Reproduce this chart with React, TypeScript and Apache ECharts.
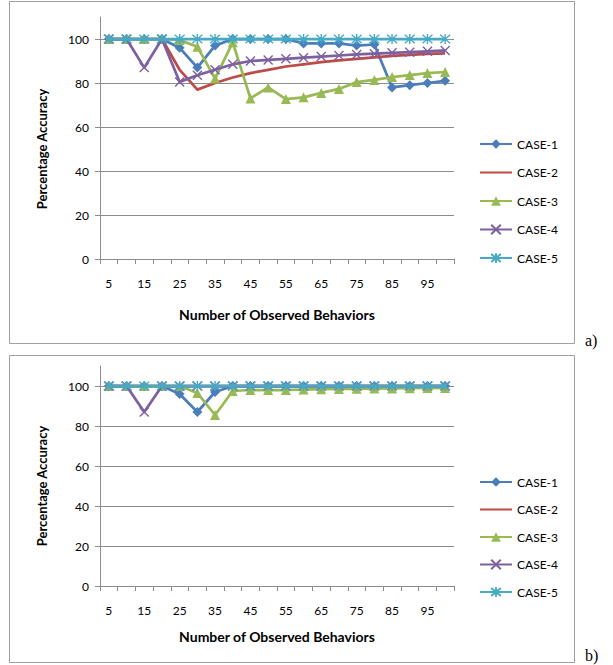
import React, { useEffect, useRef } from "react";
import * as echarts from "echarts";

const categories = ["5","10","15","20","25","30","35","40","45","50","55","60","65","70","75","80","85","90","95","100"];
const yTicks = [0, 20, 40, 60, 80, 100];
const seriesNames = ["CASE-1", "CASE-2", "CASE-3", "CASE-4", "CASE-5"];

// Panel a)
const a1 = [100,100,100,100,96,87,97,100,100,100,100,98,98,98,97,97.5,78,79,80,81];
const a2 = [100,100,100,100,86,77,80,82.5,84.5,86,87.5,88.5,89.5,90.3,91,91.7,92.3,92.8,93.2,93.5];
const a3 = [100,100,100,100,99.5,96.5,82,98.5,73,78,72.7,73.5,75.5,77.3,80.4,81.4,82.7,83.6,84.5,85];
const a4 = [100,100,87,100,80.5,83.5,86,88.5,90,90.5,91,91.5,92,92.5,93,93.3,93.7,94,94.4,94.8];
const a5 = [100,100,100,100,100,100,100,100,100,100,100,100,100,100,100,100,100,100,100,100];

// Panel b)
const b1 = [100,100,100,100,96,87,97,100,100,100,100,100,100,100,100,100,100,100,100,100];
const b2 = [100,100,100,100,100,100,100,100,100,100,100,100,100,100,100,100,100,100,100,100];
const b3 = [100,100,100,100,100,96.5,85.5,97.5,98,98,98,98.2,98.4,98.5,98.6,98.7,98.8,98.9,99,99];
const b4 = [100,100,87,100,100,100,100,100,100,100,100,100,100,100,100,100,100,100,100,100];
const b5 = [100,100,100,100,100,100,100,100,100,100,100,100,100,100,100,100,100,100,100,100];

const colors = ["#4A7EBB", "#BE4B48", "#98B954", "#7D60A0", "#46AAC5"];
const symbols = [
  "diamond",
  "none",
  "triangle",
  "path://M0,0L10,10M10,0L0,10",
  "path://M0,0L10,10M10,0L0,10M5,-1L5,11",
];
const symbolSizes = [10, 0, 10, 9, 10];

const FONT = "Lato";

function makeSeries(idx: number, data: number[], axisIndex: number) {
  const isPath = symbols[idx].startsWith("path://");
  return {
    type: "line",
    name: seriesNames[idx],
    data,
    xAxisIndex: axisIndex,
    yAxisIndex: axisIndex,
    symbol: symbols[idx],
    showSymbol: symbols[idx] !== "none",
    symbolSize: symbolSizes[idx],
    lineStyle: { color: colors[idx], width: 2.75, join: "round" },
    itemStyle: isPath
      ? { color: "rgba(0,0,0,0)", borderColor: colors[idx], borderWidth: 1.4 }
      : { color: colors[idx], borderColor: colors[idx], borderWidth: 0 },
    emphasis: { disabled: true },
    z: 2 + idx,
  };
}

function makeX(gridIndex: number, nameGap: number) {
  return {
    type: "category",
    gridIndex,
    data: categories,
    boundaryGap: true,
    axisLine: { lineStyle: { color: "#8c8c8c", width: 1 } },
    axisTick: { show: true, interval: 0, length: 5, lineStyle: { color: "#8c8c8c" } },
    axisLabel: { interval: 1, color: "#000", fontFamily: FONT, fontSize: 12, margin: 18 },
    splitLine: { show: false },
    name: "Number of Observed Behaviors",
    nameLocation: "middle",
    nameGap,
    nameTextStyle: { color: "#000", fontFamily: FONT, fontSize: 14, fontWeight: "bold" },
  };
}

function makeY(gridIndex: number) {
  return {
    type: "value",
    gridIndex,
    min: 0,
    max: 110,
    interval: 20,
    axisLine: { show: true, lineStyle: { color: "#8c8c8c", width: 1 } },
    axisTick: { show: true, length: 5, customValues: yTicks, lineStyle: { color: "#8c8c8c" } },
    axisLabel: { customValues: yTicks, color: "#000", fontFamily: FONT, fontSize: 12, margin: 11 },
    splitLine: { show: true, showMinLine: false, lineStyle: { color: "#8c8c8c", width: 1 } },
  };
}

export default function App() {
  const ref = useRef<HTMLDivElement>(null);
  useEffect(() => {
    if (!ref.current) return;
    const chart = echarts.init(ref.current, undefined, { renderer: "svg" });
    const legendData = seriesNames.map((n) =>
      n === "CASE-2" ? { name: n, itemStyle: { opacity: 0 } } : { name: n }
    );
    const legendBase = {
      orient: "vertical",
      left: 474,
      itemWidth: 32,
      itemHeight: 12,
      data: legendData,
      selectedMode: false,
      textStyle: { color: "#000", fontFamily: FONT, fontSize: 12 },
    };
    chart.setOption({
      animation: false,
      backgroundColor: "#fff",
      grid: [
        { left: 100, top: 17, width: 354, height: 242 },
        { left: 100, top: 366, width: 354, height: 220 },
      ],
      xAxis: [makeX(0, 48), makeX(1, 43)],
      yAxis: [makeY(0), makeY(1)],
      legend: [
        { ...legendBase, top: 133, itemGap: 16.5 },
        { ...legendBase, top: 471, itemGap: 15.5 },
      ],
      graphic: [
        { type: "rect", shape: { x: 9.5, y: 1.5, width: 565, height: 342 }, style: { fill: "none", stroke: "#a0a0a0", lineWidth: 1 }, silent: true },
        { type: "rect", shape: { x: 9.5, y: 355.5, width: 565, height: 307 }, style: { fill: "none", stroke: "#a0a0a0", lineWidth: 1 }, silent: true },
        { type: "text", x: 585, y: 340, style: { text: "a)", font: "16px 'Liberation Serif'", fill: "#000", verticalAlign: "middle" }, silent: true },
        { type: "text", x: 585, y: 655, style: { text: "b)", font: "16px 'Liberation Serif'", fill: "#000", verticalAlign: "middle" }, silent: true },
        { type: "text", x: 42, y: 149, rotation: Math.PI / 2, style: { text: "Percentage Accuracy", font: `bold 13px ${FONT}`, fill: "#000", align: "center", verticalAlign: "middle" }, silent: true },
        { type: "text", x: 42, y: 486, rotation: Math.PI / 2, style: { text: "Percentage Accuracy", font: `bold 13px ${FONT}`, fill: "#000", align: "center", verticalAlign: "middle" }, silent: true },
      ],
      series: [
        makeSeries(0, a1, 0),
        makeSeries(1, a2, 0),
        makeSeries(2, a3, 0),
        makeSeries(3, a4, 0),
        makeSeries(4, a5, 0),
        makeSeries(0, b1, 1),
        makeSeries(1, b2, 1),
        makeSeries(2, b3, 1),
        makeSeries(3, b4, 1),
        makeSeries(4, b5, 1),
      ],
    });
    return () => chart.dispose();
  }, []);
  return (
    <div
      ref={ref}
      style={{ position: "fixed", left: 0, top: 0, width: 613, height: 665, background: "#fff" }}
    />
  );
}
